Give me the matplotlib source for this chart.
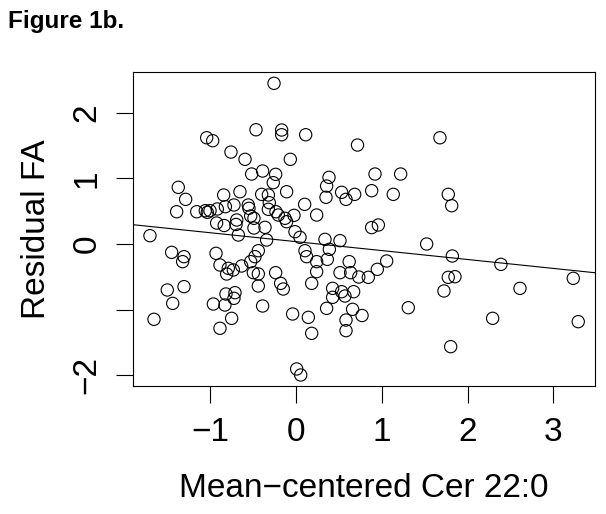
import matplotlib
matplotlib.use('Agg')
import matplotlib.pyplot as plt
import numpy as np

plt.rcParams['font.family'] = ['Liberation Sans', 'DejaVu Sans']

# points (mean-centered Cer 22:0, residual FA)
cer = [-0.256, -1.041, -0.971, -0.466, -0.167, -0.167, 0.113, 0.717, -0.758, -0.594,
       -0.066, -0.517, -0.389, -0.237, -0.265, 0.385, 0.357, 0.350, -1.372, -1.286,
       -1.391, -1.157, -1.057, -1.034, -1.002, -0.917, -0.843, -0.823, -0.723, -0.653,
       -0.556, -0.548, -0.528, -0.490, -0.400, -0.322, -0.311, -0.322, -0.233, -0.206,
       -0.109, -0.128, -0.109, -0.023, 0.101, 0.241, 0.532, 0.583, 0.684,
       -0.925, -0.837, -0.691, -0.699,
       -1.702, -0.672, -0.490, -0.361, -0.342, -0.012, 0.047, 0.105, 0.124, 0.241,
       0.241, 0.338, 0.389, 0.365, 0.513, 0.620, 0.513, 0.637, 0.732, -1.449, -1.305,
       -1.321, -0.932, -0.886, -0.789, -0.808, -0.730, -0.633, -0.528, -0.478, -0.439,
       -0.497, -0.439, -0.439, -0.237, -0.179, -0.148, 0.183, 0.427, 0.427, 0.532,
       0.571, 0.672, 0.357, 0.660, -1.500, -1.305, -1.437, -0.963, -0.816, -0.711,
       -0.723, -0.828, -0.750, -0.886, -0.389, -0.039, 0.144, 0.183, 0.583, 0.583,
       -1.655, 0.008, 0.055,
       1.678, 0.921, 1.220, 0.882, 1.134, 1.775, 1.815, 0.882, 0.960,
       1.523, 1.822, 2.389, 3.232, 0.843, 0.948, 1.057, 0.770, 1.775, 1.853, 1.725,
       2.611, 1.309, 2.292, 3.290, 1.803]
fa = [2.45, 1.62, 1.575, 1.742, 1.738, 1.666, 1.666, 1.509, 1.402, 1.291,
      1.291, 1.067, 1.113, 1.062, 0.935, 1.016, 0.884, 0.712, 0.864, 0.681,
      0.492, 0.492, 0.508, 0.483, 0.508, 0.534, 0.747, 0.569, 0.595, 0.797,
      0.595, 0.544, 0.427, 0.392, 0.757, 0.747, 0.630, 0.529, 0.492, 0.442,
      0.797, 0.392, 0.340, 0.437, 0.605, 0.442, 0.788, 0.681, 0.757,
      0.320, 0.282, 0.366, 0.298,
      0.127, 0.137, 0.244, 0.254, 0.061, 0.188, 0.102, -0.102, -0.193, -0.269,
      -0.422, 0.071, -0.081, -0.234, 0.051, -0.269, -0.437, -0.437, -0.503, -0.127, -0.193,
      -0.269, -0.142, -0.320, -0.371, -0.457, -0.396, -0.335, -0.269, -0.193, -0.102,
      -0.437, -0.457, -0.640, -0.437, -0.600, -0.686, -0.600, -0.676, -0.813, -0.727,
      -0.793, -0.727, -0.981, -0.996, -0.701, -0.650, -0.905, -0.915, -0.762, -0.742,
      -0.828, -0.930, -1.133, -1.285, -0.945, -1.067, -1.118, -1.362, -1.159, -1.321,
      -1.148, -1.905, -1.997,
      1.620, 1.067, 1.067, 0.813, 0.757, 0.757, 0.584, 0.250, 0.290,
      0.0, -0.183, -0.310, -0.523, -0.508, -0.386, -0.259, -1.090, -0.508, -0.498, -0.716,
      -0.676, -0.971, -1.133, -1.184, -1.565]

# fitted line
intercept = 0.036
slope = -0.136

fig = plt.figure(figsize=(6.06, 5.14), dpi=100)
ax = fig.add_axes([0.22, 0.249, 0.7618, 0.6115])

ax.scatter(cer, fa, s=78, facecolors='none', edgecolors='black', linewidths=0.8)
xx = np.array([-1.896, 3.485])
ax.plot(xx, intercept + slope * xx, color='black', linewidth=0.8)

ax.set_xlim(-1.896, 3.485)
ax.set_ylim(-2.165, 2.627)
ax.set_xticks([-1, 0, 1, 2, 3])
ax.set_xticklabels(['\u22121', '0', '1', '2', '3'])
ax.set_yticks([-2, -1, 0, 1, 2])
ax.set_yticklabels(['\u22122', '', '0', '1', '2'], rotation=90, va='center')
ax.tick_params(axis='both', length=12, width=0.8, labelsize=24, pad=10)
for sp in ax.spines.values():
    sp.set_linewidth(0.8)

ax.set_xlabel('Mean\u2212centered Cer 22:0', fontsize=24, labelpad=18)
ax.set_ylabel('Residual FA', fontsize=24, labelpad=14)

fig.text(0.013, 0.958, 'Figure 1b.', fontsize=17.5, fontweight='bold', va='center')

fig.savefig('out.png', dpi=100)
